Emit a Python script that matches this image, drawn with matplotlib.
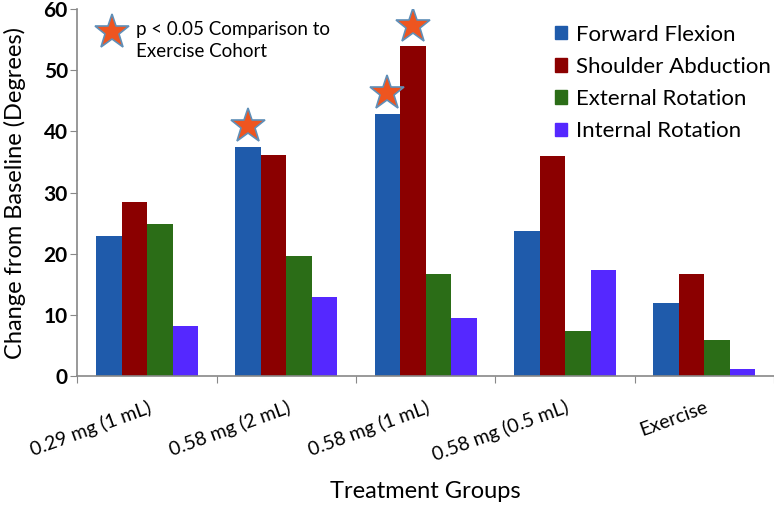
import numpy as np
import matplotlib
matplotlib.use('Agg')
import matplotlib.pyplot as plt
from matplotlib.patches import Patch

plt.rcParams['font.family'] = ['Lato', 'DejaVu Sans']

groups = ['0.29 mg (1 mL)', '0.58 mg (2 mL)', '0.58 mg (1 mL)', '0.58 mg (0.5 mL)', 'Exercise']
series = ['Forward Flexion', 'Shoulder Abduction', 'External Rotation', 'Internal Rotation']
forward_flexion = [22.9, 37.5, 42.9, 23.7, 12.0]
shoulder_abduction = [28.4, 36.1, 53.9, 35.9, 16.6]
external_rotation = [24.8, 19.7, 16.6, 7.4, 5.9]
internal_rotation = [8.1, 12.9, 9.5, 17.4, 1.1]
# (group index, series index) of bars flagged p < 0.05
significant = [(1, 0), (2, 0), (2, 1)]

colors = ['#1f5bab', '#8b0000', '#2b6d17', '#5528ff']
values = [forward_flexion, shoulder_abduction, external_rotation, internal_rotation]

fig = plt.figure(figsize=(7.74, 5.05), dpi=100)
ax = fig.add_axes([0.1001, 0.2554, 0.8999, 0.7267])

centers = np.arange(len(groups)) + 0.5
w = 0.183
for i, (vals, col) in enumerate(zip(values, colors)):
    ax.bar(centers + (i - 1.5) * w, vals, width=w, color=col, label=series[i], zorder=2)

star_kw = dict(marker='*', markersize=26, markerfacecolor='#ee5520',
               markeredgecolor='#5f8fb8', markeredgewidth=1.2, linestyle='none', zorder=3)
for g, s in significant:
    ax.plot(centers[g] + (s - 1.5) * w, values[s][g] + 3.4, **star_kw)

# star key in upper left
ax.plot(0.247, 56.2, clip_on=False, **star_kw)
ax.text(0.42, 54.9, 'p < 0.05 Comparison to\nExercise Cohort', fontsize=13.5,
        va='center', ha='left', linespacing=1.36)

ax.set_xlim(0, 5)
ax.set_ylim(0, 60)
ax.set_yticks(range(0, 61, 10))
ax.set_xticks(range(0, 6))
ax.set_xticklabels([])
ax.set_xticks(centers, minor=True)
ax.set_xticklabels(groups, minor=True, rotation=20, ha='right', va='top',
                   rotation_mode='anchor', fontsize=14)
ax.tick_params(axis='x', which='minor', length=0, pad=16)
ax.tick_params(axis='x', which='major', length=5, color='#888888')
ax.tick_params(axis='y', length=5, color='#888888', labelsize=15, pad=2)
for lab in ax.get_yticklabels():
    lab.set_fontweight('bold')

for sp in ['top', 'right']:
    ax.spines[sp].set_visible(False)
for sp in ['left', 'bottom']:
    ax.spines[sp].set_color('#888888')
    ax.spines[sp].set_linewidth(1.2)

fig.text(15 / 774, 1 - 193 / 505, 'Change from Baseline (Degrees)', fontsize=17,
         rotation=90, ha='center', va='center')
ax.set_xlabel('Treatment Groups', fontsize=17, labelpad=12)

handles = [Patch(color=c, label=s) for c, s in zip(colors, series)]
ax.legend(handles=handles, loc='upper right', bbox_to_anchor=(1.018, 1.0), frameon=False,
          fontsize=16, handlelength=0.55, handleheight=0.55, handletextpad=0.4,
          labelspacing=0.55, borderpad=0.2)

fig.savefig('out.png', dpi=100)
